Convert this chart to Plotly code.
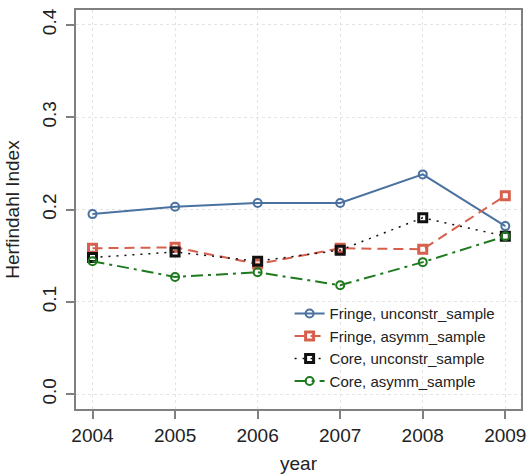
import plotly.graph_objects as go

years = [2004, 2005, 2006, 2007, 2008, 2009]
fringe_unconstr = [0.195, 0.203, 0.207, 0.207, 0.238, 0.182]
fringe_asymm = [0.158, 0.159, 0.141, 0.158, 0.157, 0.215]
core_unconstr = [0.148, 0.154, 0.144, 0.156, 0.191, 0.171]
core_asymm = [0.144, 0.127, 0.132, 0.118, 0.143, 0.171]

# name, values, colour, dash pattern, line width, marker symbol, marker outline width
series = [
    ("Fringe, unconstr_sample", fringe_unconstr, "#4a71a0", "solid", 2, "circle-open", 2),
    ("Fringe, asymm_sample", fringe_asymm, "#d6604d", "10px,6px", 2, "square-open", 3),
    ("Core, unconstr_sample", core_unconstr, "#111111", "2px,6px", 1.5, "square-open", 3),
    ("Core, asymm_sample", core_asymm, "#1f7a1f", "12px,5px,3px,5px", 2, "circle-open", 2),
]

fig = go.Figure()
for name, vals, color, dash, lw, sym, mlw in series:
    fig.add_trace(go.Scatter(
        x=years, y=vals, name=name, mode="lines+markers",
        line=dict(color=color, width=lw, dash=dash),
        marker=dict(symbol=sym, size=8, color=color, line=dict(width=mlw, color=color)),
    ))

axis_common = dict(
    showline=True, linecolor="#808080", linewidth=1.5, mirror=True,
    ticks="outside", ticklen=8, tickcolor="#808080", tickwidth=1.5,
    showgrid=True, gridcolor="#e4e4e4", griddash="dot", gridwidth=1,
    zeroline=False,
    tickfont=dict(size=19, color="#222222"),
)

fig.update_layout(
    width=531, height=476,
    margin=dict(l=76, r=5, t=10, b=64),
    paper_bgcolor="white", plot_bgcolor="white",
    font=dict(family="Liberation Sans, Arial, sans-serif", color="#222222"),
    xaxis=dict(
        range=[2003.8, 2009.19], tickvals=years, ticktext=[str(y) for y in years],
        title=dict(text="year", font=dict(size=19), standoff=12),
        **axis_common,
    ),
    yaxis=dict(
        range=[-0.016, 0.416], tickvals=[0, 0.1, 0.2, 0.3, 0.4],
        ticktext=["0.0", "0.1", "0.2", "0.3", "0.4"], tickangle=-90,
        ticklabelstandoff=3,
        title=dict(text="Herfindahl Index", font=dict(size=19), standoff=14),
        **axis_common,
    ),
    legend=dict(
        x=0.48, y=0.28, xanchor="left", yanchor="top",
        bgcolor="rgba(255,255,255,0)", font=dict(size=15),
        tracegroupgap=0, itemwidth=30,
    ),
)

fig.write_html("out.html")
